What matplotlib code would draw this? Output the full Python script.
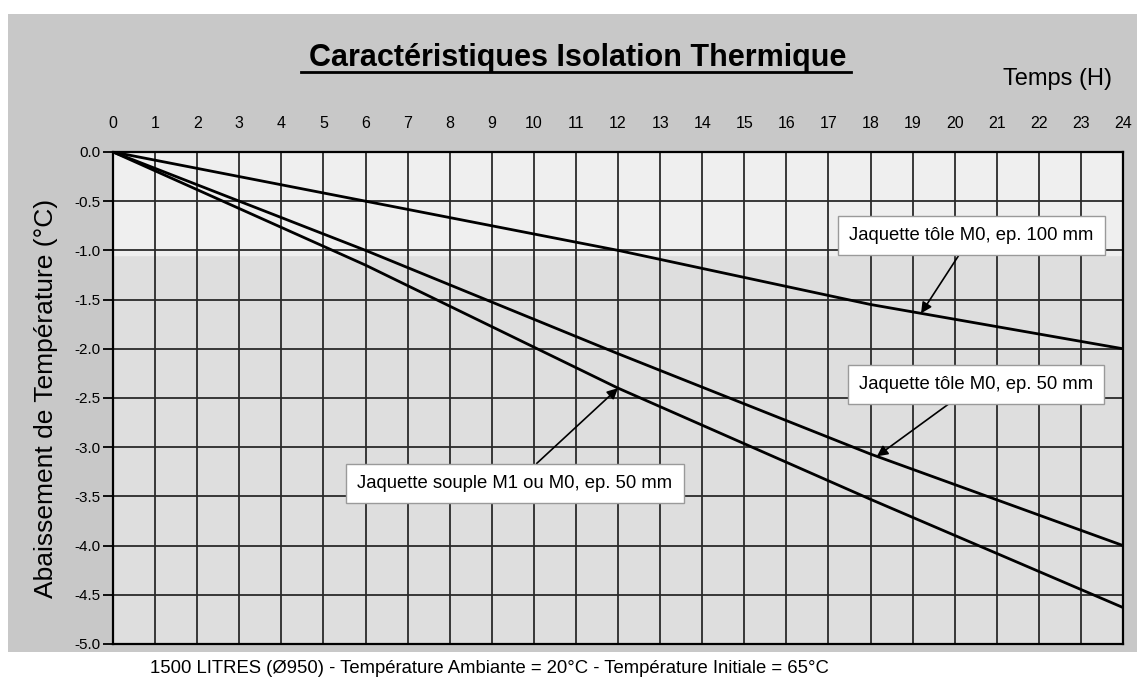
import numpy as np
import matplotlib.pyplot as plt
from matplotlib.patches import Rectangle
from matplotlib.lines import Line2D

# === Data ===
heures = [0, 6, 12, 18, 24]
tole_100 = [0.0, -0.50, -1.00, -1.55, -2.00]
tole_50 = [0.0, -1.00, -2.05, -3.07, -4.00]
souple_50 = [0.0, -1.15, -2.40, -3.53, -4.63]

x_ticks = list(range(0, 25))
y_ticks = [0.0, -0.5, -1.0, -1.5, -2.0, -2.5, -3.0, -3.5, -4.0, -4.5, -5.0]

lab_100 = "Jaquette tôle M0, ep. 100 mm"
lab_50 = "Jaquette tôle M0, ep. 50 mm"
lab_souple = "Jaquette souple M1 ou M0, ep. 50 mm"

plt.rcParams['font.family'] = ['Liberation Sans', 'DejaVu Sans']

# === Figure ===
fig = plt.figure(figsize=(11.44, 6.88), dpi=100, facecolor='white')

# grey scanned panel
fig.patches.append(Rectangle((0.007, 0.052), 0.987, 0.927, transform=fig.transFigure,
                             facecolor='#c8c8c8', edgecolor='none', zorder=-5))

ax = fig.add_axes([0.0988, 0.064, 0.8829, 0.7151])
ax.set_facecolor('#dedede')
ax.axhspan(0, -1.05, color='#efefef', zorder=0)

ax.plot(heures, tole_100, color='black', lw=2, zorder=3)
ax.plot(heures, tole_50, color='black', lw=2, zorder=3)
ax.plot(heures, souple_50, color='black', lw=2, zorder=3)

ax.set_xlim(0, 24)
ax.set_ylim(-5.0, 0.0)
ax.set_xticks(x_ticks)
ax.set_yticks(y_ticks)
ax.set_yticklabels([f"{v:.1f}" for v in y_ticks])
ax.xaxis.tick_top()
ax.tick_params(axis='x', length=0, pad=15, labelsize=11.5)
ax.tick_params(axis='y', length=7, width=1.3, pad=2, labelsize=11)
ax.grid(True, color='#2a2a2a', lw=1.3)
for s in ax.spines.values():
    s.set_linewidth(1.6)
    s.set_color('black')

ax.set_ylabel("Abaissement de Température (°C)", fontsize=19, labelpad=12)

# === Annotations ===
box = dict(boxstyle='square,pad=0.6', facecolor='white', edgecolor='#9a9a9a', lw=1)
arrow = dict(arrowstyle='-|>', color='black', lw=1.2, mutation_scale=16, shrinkA=0, shrinkB=0)

ax.annotate(lab_100, xy=(19.2, np.interp(19.2, heures, tole_100)), xytext=(20.4, -0.85),
            ha='center', va='center', fontsize=13.3, bbox=box, arrowprops=arrow, zorder=5)
ax.annotate(lab_50, xy=(18.15, np.interp(18.15, heures, tole_50)), xytext=(20.5, -2.36),
            ha='center', va='center', fontsize=13.3, bbox=box, arrowprops=arrow, zorder=5)
ax.annotate(lab_souple, xy=(12.0, np.interp(12.0, heures, souple_50)), xytext=(9.55, -3.37),
            ha='center', va='center', fontsize=13.3, bbox=box, arrowprops=arrow, zorder=5)

# === Titles / captions ===
fig.text(0.505, 0.916, "Caractéristiques Isolation Thermique", ha='center', va='center',
         fontsize=22, fontweight='bold')
fig.add_artist(Line2D([0.263, 0.744], [0.895, 0.895], transform=fig.transFigure,
                      color='black', lw=2))
fig.text(0.972, 0.885, "Temps (H)", ha='right', va='center', fontsize=17)
fig.text(0.131, 0.029, "1500 LITRES (Ø950) - Température Ambiante = 20°C - Température Initiale = 65°C",
         ha='left', va='center', fontsize=13.3)

plt.savefig("out.png", dpi=100, facecolor=fig.get_facecolor())
